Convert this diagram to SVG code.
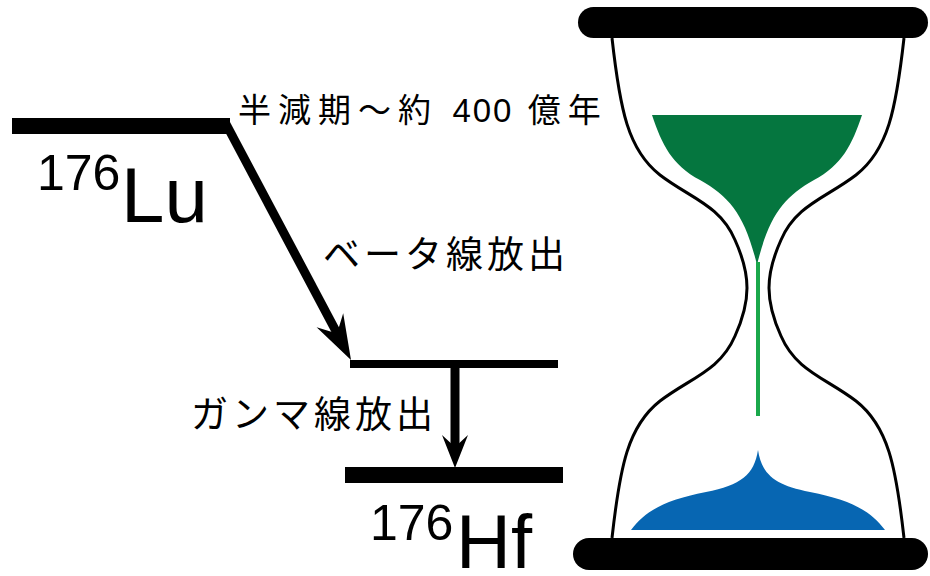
<svg xmlns="http://www.w3.org/2000/svg" width="930" height="576" viewBox="0 0 930 576">
  <style>
    .jp { font-family: "Noto Sans CJK JP", "Noto Sans", sans-serif; fill: #000; }
    .el { font-family: "Liberation Sans", Arial, sans-serif; fill: #000; }
    .num { font-family: "Liberation Sans", Arial, sans-serif; }
    .level { fill: #000; }
    .conn { stroke: #000; stroke-width: 9; fill: none; }
    .head { fill: #000; }
    .glass { stroke: #000; stroke-width: 3; fill: none; }
    .cap { fill: #000; }
  </style>

  <!-- energy levels -->
  <g id="lu-level">
    <rect class="level" x="12" y="118" width="218" height="16"/>
    <text class="el" x="37" y="190" font-size="50">176</text>
    <text class="el" x="121" y="222" font-size="78">Lu</text>
  </g>
  <g id="intermediate-level">
    <rect class="level" x="350" y="360" width="208" height="8"/>
  </g>
  <g id="hf-level">
    <rect class="level" x="345" y="467" width="218" height="16"/>
    <text class="el" x="370" y="540" font-size="50">176</text>
    <text class="el" x="456" y="568" font-size="76">Hf</text>
  </g>

  <!-- labels -->
  <g id="half-life-label">
    <text class="jp" x="238" y="122" font-size="33"><tspan letter-spacing="7">半減期～約 </tspan><tspan class="num" letter-spacing="2">400</tspan><tspan letter-spacing="7"> 億年</tspan></text>
  </g>
  <g id="beta-label">
    <text class="jp" x="323" y="268" font-size="37" letter-spacing="4">ベータ線放出</text>
  </g>
  <g id="gamma-label">
    <text class="jp" x="191" y="428" font-size="37" letter-spacing="4">ガンマ線放出</text>
  </g>

  <!-- decay transitions -->
  <g id="connectors">
    <line class="conn" x1="226" y1="124" x2="338" y2="335"/>
    <path class="head" d="M351,360 L316.6,327.2 L337,333.5 L343.2,313.2 Z"/>
    <line class="conn" x1="455" y1="364" x2="455" y2="448"/>
    <path class="head" d="M455,468 L442,435 L455,447 L468,435 Z"/>
  </g>

  <!-- hourglass -->
  <g id="hourglass">
    <path d="M652,115 L862,115 C852,145 842,165 814,180 C784,197 769,215 757,265 C745,215 730,197 700,180 C672,165 662,145 652,115 Z" fill="#05763f"/>
    <line x1="758" y1="262" x2="758" y2="416" stroke="#1aa84b" stroke-width="4"/>
    <path d="M758,450 C762,475 775,485 810,492 C850,500 870,510 885,530 L631,530 C646,510 666,500 706,492 C741,485 754,475 758,450 Z" fill="#0766b2"/>
    <path class="glass" d="M612,38 C620,110 628,150 660,175 C690,198 720,205 735,240 C745,262 747,275 747,288 C747,301 745,314 735,336 C720,371 690,378 660,401 C628,426 620,466 612,538"/>
    <path class="glass" d="M904,38 C896,110 888,150 856,175 C826,198 796,205 781,240 C771,262 769,275 769,288 C769,301 771,314 781,336 C796,371 826,378 856,401 C888,426 896,466 904,538"/>
    <rect class="cap" x="578" y="7" width="350" height="31" rx="15.5"/>
    <rect class="cap" x="573" y="538" width="355" height="32" rx="16"/>
  </g>
</svg>
